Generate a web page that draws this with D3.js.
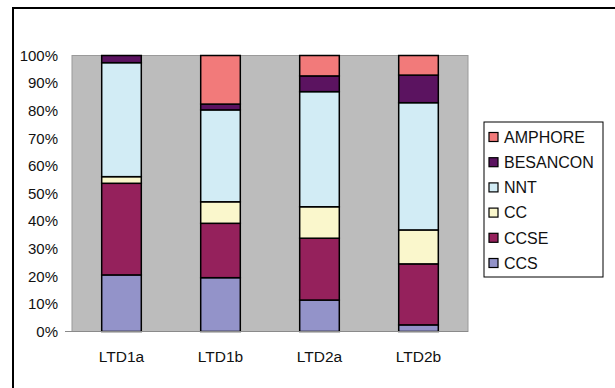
<!DOCTYPE html>
<html><head><meta charset="utf-8">
<script src="https://cdn.jsdelivr.net/npm/d3@7"></script>
<style>body{margin:0;background:#fff}svg{display:block}text{font-family:"Liberation Sans",Arial,sans-serif}</style>
</head><body>
<svg id="c" width="615" height="388"></svg>
<script>
const categories = ["LTD1a", "LTD1b", "LTD2a", "LTD2b"];
const seriesNames = ["CCS", "CCSE", "CC", "NNT", "BESANCON", "AMPHORE"];
const CCS = [20.5, 19.5, 11.4, 2.4];
const CCSE = [33.2, 19.7, 22.4, 22.1];
const CC = [2.4, 7.8, 11.4, 12.3];
const NNT = [41.3, 33.3, 41.7, 46.1];
const BESANCON = [2.6, 2.1, 5.7, 10.0];
const AMPHORE = [0.0, 17.6, 7.4, 7.1];
const yTicks = [0, 10, 20, 30, 40, 50, 60, 70, 80, 90, 100];
const colors = ["#9393C9", "#95215C", "#FAF7CC", "#D2ECF5", "#5B1360", "#F27A7A"];

const seriesVals = [CCS, CCSE, CC, NNT, BESANCON, AMPHORE];
const rows = categories.map((c, i) => {
  const r = {cat: c};
  seriesNames.forEach((s, j) => r[s] = seriesVals[j][i]);
  return r;
});
const stacked = d3.stack().keys(seriesNames)(rows);

const svg = d3.select("#c");
// outer frame
svg.append("rect").attr("x", 13).attr("y", 8).attr("width", 610).attr("height", 400)
  .attr("fill", "#fff").attr("stroke", "#000").attr("stroke-width", 2);

const L = 72, R = 468, T = 55.5, B = 331.5;
const x = d3.scaleBand().domain(categories).range([L, R]).paddingInner(0.6).paddingOuter(0.3);
const y = d3.scaleLinear().domain([0, 100]).range([B, T]);

svg.append("rect").attr("x", L).attr("y", T).attr("width", R - L).attr("height", B - T)
  .attr("fill", "#BCBCBC").attr("stroke", "#9a9a9a").attr("stroke-width", 1);

// y axis labels
const yAxis = d3.axisLeft(y).tickValues(yTicks).tickFormat(d => d + "%").tickSize(0).tickPadding(14);
const gy = svg.append("g").attr("transform", `translate(${L},0)`).call(yAxis);
gy.select(".domain").remove();
gy.selectAll("text").attr("font-size", 15).attr("fill", "#111").style("font-family", "Liberation Sans, Arial, sans-serif");

// bars
const g = svg.append("g");
stacked.forEach((s, j) => {
  g.selectAll(null).data(s).join("rect")
    .attr("x", (d, i) => x(categories[i]))
    .attr("y", d => y(d[1]))
    .attr("width", x.bandwidth())
    .attr("height", d => y(d[0]) - y(d[1]))
    .attr("fill", colors[j])
    .attr("stroke", "#000").attr("stroke-width", 1.5);
});

// x axis
const xAxis = d3.axisBottom(x).tickSize(0).tickPadding(19);
const gx = svg.append("g").attr("transform", `translate(0,${B})`).call(xAxis);
gx.select(".domain").remove();
gx.selectAll("text").attr("font-size", 15.5).attr("fill", "#111").style("font-family", "Liberation Sans, Arial, sans-serif");
svg.append("line").attr("x1", 65).attr("x2", R).attr("y1", B).attr("y2", B)
  .attr("stroke", "#8a8a8a").attr("stroke-width", 1);

// legend
const lg = svg.append("g");
lg.append("rect").attr("x", 484).attr("y", 122).attr("width", 119).attr("height", 155)
  .attr("fill", "#fff").attr("stroke", "#000").attr("stroke-width", 1);
const legendOrder = seriesNames.slice().reverse();
const ly = d3.scalePoint().domain(legendOrder).range([137, 263]);
legendOrder.forEach(name => {
  const j = seriesNames.indexOf(name);
  lg.append("rect").attr("x", 489).attr("y", ly(name) - 4.5).attr("width", 9).attr("height", 9)
    .attr("fill", colors[j]).attr("stroke", "#000").attr("stroke-width", 1.2);
  lg.append("text").attr("x", 504).attr("y", ly(name)).attr("dy", "0.36em")
    .attr("fill", "#111").attr("font-size", 16).text(name);
});
</script>
</body></html>
